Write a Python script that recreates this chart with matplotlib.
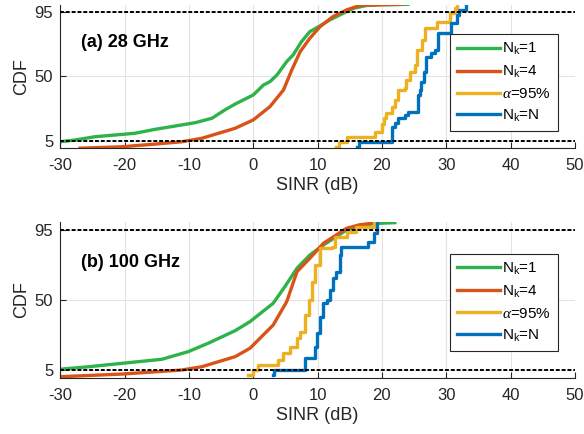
import numpy as np
import matplotlib
matplotlib.use("Agg")
import matplotlib.pyplot as plt

plt.rcParams['font.family'] = ['Liberation Sans', 'DejaVu Sans']
plt.rcParams['mathtext.fontset'] = 'custom'
plt.rcParams['mathtext.rm'] = 'Liberation Sans'
plt.rcParams['mathtext.it'] = 'Liberation Serif:italic'
plt.rcParams['axes.unicode_minus'] = False

# ---- (a) 28 GHz ----
a_nk1_x = [-30, -27.7, -24.6, -18.4, -15.2, -9.0, -6.4, -4.4, -2.8, 0.0, 1.6, 2.6, 3.7, 5.2, 6.2, 7.5, 8.8, 10.4, 11.9, 13.5, 15.6, 17.6, 20, 24]
a_nk1_y = [4.5, 5.7, 8.0, 10.4, 13.2, 17.8, 20.9, 26.7, 30.8, 37.1, 44.1, 46.4, 51.1, 60.4, 65, 74.3, 81.3, 85.3, 89.5, 93, 97.6, 99.5, 100, 100.3]

a_nk4_x = [-26.9, -20.4, -15.2, -11.1, -8.0, -5.4, -2.8, 0.0, 2.6, 4.7, 6.0, 7.3, 8.8, 10.4, 12.4, 14.5, 16.6, 19, 22.8]
a_nk4_y = [0.0, 1.0, 2.9, 4.5, 6.9, 10.4, 13.9, 19.7, 29, 40.6, 54.6, 67.3, 76.7, 84.8, 91.8, 96.4, 99.6, 100, 100.3]

a_alpha_x = [12.9, 13.3, 14.5, 18.9, 20.0, 20.3, 20.7, 21.5, 22.0, 22.5, 23.6, 23.7, 24.4, 25.1, 25.5, 26.2, 26.7, 28.5, 30.6, 31.3, 31.7]
a_alpha_y = [1.0, 4.5, 8.0, 11.5, 17.0, 20.9, 24.3, 29.0, 33.6, 40.6, 41.8, 47.6, 53.4, 58.0, 68.5, 75.5, 83.7, 88.3, 94.1, 97.6, 100]

a_nkn_x = [16.2, 16.4, 21.5, 22.0, 22.5, 23.6, 24.1, 25.6, 25.9, 26.1, 26.5, 26.8, 27.7, 28.2, 28.7, 30.8, 31.6, 31.9, 33.1]
a_nkn_y = [1.0, 4.5, 15.0, 17.4, 20.9, 23.2, 25.5, 37.1, 40.6, 46.4, 53.4, 63.9, 66.2, 68.5, 80.2, 87.1, 93.0, 96.4, 100]

# ---- (b) 100 GHz ----
b_nk1_x = [-30, -25.6, -20.4, -14.2, -10.1, -7.0, -2.8, -0.5, 3.1, 4.9, 6.8, 8.8, 10.9, 12.9, 14.5, 16.6, 19, 22.0]
b_nk1_y = [5.5, 7.1, 9.3, 11.9, 16.8, 22.2, 30.3, 36.1, 47.9, 58.5, 70.4, 78.9, 85.3, 90.7, 95, 97.8, 99.2, 99.7]

b_nk4_x = [-30, -20.4, -11.1, -8.0, -2.8, -0.5, 3.1, 5.2, 6.8, 8.8, 10.9, 12.9, 14.5, 16.5, 18.4]
b_nk4_y = [0.7, 2.4, 5.0, 7.1, 13.6, 19.0, 33.9, 48.9, 68.2, 76.8, 86.4, 91.8, 96.1, 98.3, 99.3]

b_alpha_x = [-0.75, 0.0, 0.8, 3.9, 4.7, 5.7, 6.8, 7.3, 8.1, 8.6, 9.1, 9.6, 10.4, 12.2, 12.7, 14.5, 16.0, 18.7]
b_alpha_y = [1.8, 5.0, 8.2, 11.4, 15.7, 20.0, 25.4, 29.6, 40.4, 50.0, 61.8, 72.5, 83.2, 84.3, 90.7, 93.9, 97.1, 99.3]

b_nkn_x = [3.1, 3.2, 8.1, 9.6, 9.9, 10.4, 10.9, 11.4, 11.9, 12.4, 12.9, 13.5, 13.7, 14.5, 17.9, 18.7, 19.3]
b_nkn_y = [1.8, 5.0, 12.5, 20.0, 28.6, 39.3, 47.9, 50.0, 56.4, 63.9, 68.2, 78.9, 84.3, 84.3, 87.5, 92.9, 99.3]

labels = [r'N$_\mathregular{k}$=1', r'N$_\mathregular{k}$=4', r'$\alpha$=95%', r'N$_\mathregular{k}$=N']
colors = ['#2DB34A', '#D95319', '#EDB120', '#0072BD']
titles = ['(a) 28 GHz', '(b) 100 GHz']

panels = [
    [(a_nk1_x, a_nk1_y, None), (a_nk4_x, a_nk4_y, None), (a_alpha_x, a_alpha_y, 'steps-post'), (a_nkn_x, a_nkn_y, 'steps-post')],
    [(b_nk1_x, b_nk1_y, None), (b_nk4_x, b_nk4_y, None), (b_alpha_x, b_alpha_y, 'steps-post'), (b_nkn_x, b_nkn_y, 'steps-post')],
]

fig = plt.figure(figsize=(5.84, 4.34), dpi=100)
axes = [fig.add_axes([0.103, 0.6585, 0.8816, 0.3305]),
        fig.add_axes([0.103, 0.1295, 0.8816, 0.3585])]

for ax, series, title in zip(axes, panels, titles):
    ax.grid(True, color='#e3e3e3', linewidth=0.8)
    ax.set_axisbelow(True)
    for (x, y, ds), c, lab in zip(series, colors, labels):
        if ds:
            ax.plot(x, y, color=c, lw=2.4, drawstyle=ds, label=lab)
        else:
            ax.plot(x, y, color=c, lw=2.4, label=lab)
    for lvl in [5, 95]:
        ax.axhline(lvl, color='black', lw=1.4, linestyle=(0, (2, 1)), zorder=5)
    ax.set_xlim(-30, 50)
    ax.set_ylim(0, 100)
    ax.set_xticks(np.arange(-30, 51, 10))
    ax.set_yticks([5, 50, 95])
    ax.tick_params(direction='in', labelsize=12, colors='#262626', length=4)
    ax.tick_params(axis='x', pad=7)
    ax.tick_params(axis='y', pad=5)
    for s in ['top', 'right']:
        ax.spines[s].set_visible(False)
    for s in ['left', 'bottom']:
        ax.spines[s].set_color('#262626')
        ax.spines[s].set_linewidth(0.8)
    ax.set_xlabel('SINR (dB)', fontsize=13, color='#262626', labelpad=3)
    ax.set_ylabel('CDF', fontsize=13, color='#262626', labelpad=3)
    ax.text(-26.8, 74, title, fontsize=13, fontweight='bold', va='center', ha='left')
    leg = ax.legend(loc='upper right', bbox_to_anchor=(0.967, 0.796), fontsize=11,
                    fancybox=False, framealpha=1, edgecolor='#262626',
                    handlelength=2.8, handletextpad=0.15, borderpad=0.45,
                    labelspacing=0.45, borderaxespad=0)
    leg.get_frame().set_linewidth(0.8)

fig.savefig('out.png', dpi=100)
